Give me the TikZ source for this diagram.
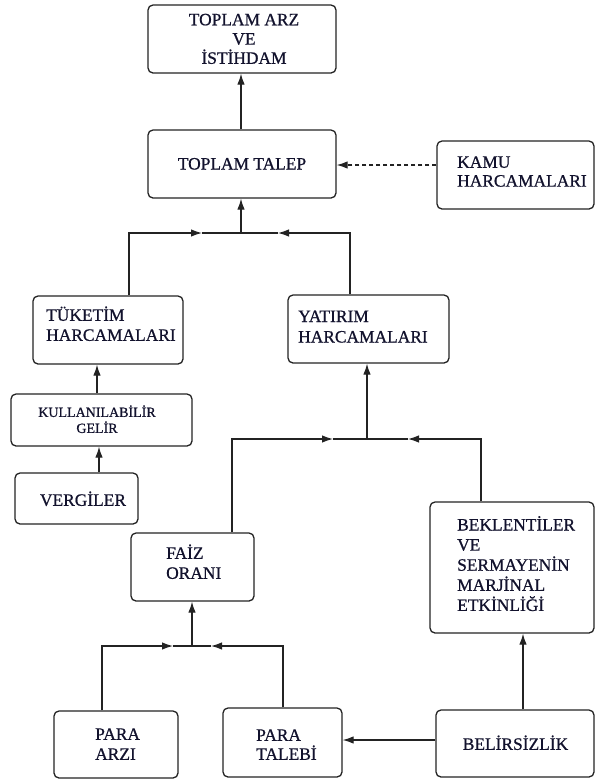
\documentclass[tikz,border=0pt]{standalone}
\usepackage{fontspec}
\setmainfont{Liberation Serif}[BoldFont=Liberation Serif,BoldFeatures={FakeBold=0.8}]
\usetikzlibrary{arrows.meta}
\definecolor{txtc}{RGB}{18,18,45}
\definecolor{linec}{RGB}{35,35,35}
\begin{document}
\begin{tikzpicture}[x=1pt,y=-1pt,
  box/.style={draw=linec,line width=1.3pt,rounded corners=5pt,inner sep=0pt},
  lbl/.style={inner sep=0pt,text=txtc,font=\fontsize{17.4}{20}\selectfont\bfseries},
  lbls/.style={inner sep=0pt,text=txtc,font=\fontsize{14}{16}\selectfont\bfseries},
  conn/.style={draw=linec,line width=1.2pt},
  arr/.style={conn,-{Latex[length=11pt,width=7.5pt]}},
  dasharr/.style={arr,dash pattern=on 4pt off 3pt}]
\useasboundingbox (0,0) rectangle (595,780);
% boxes
\node[box,minimum width=188pt,minimum height=68pt] (arz) at (242,39) {};
\node[box,minimum width=188pt,minimum height=68pt] (talep) at (242,164) {};
\node[box,minimum width=157pt,minimum height=68pt] (kamu) at (515.5,175) {};
\node[box,minimum width=150pt,minimum height=68pt] (tuk) at (108,330) {};
\node[box,minimum width=161pt,minimum height=68pt] (yat) at (368.5,329) {};
\node[box,minimum width=181pt,minimum height=52pt] (kul) at (101.5,420) {};
\node[box,minimum width=123pt,minimum height=51pt] (ver) at (76.5,498.5) {};
\node[box,minimum width=123pt,minimum height=68pt] (faiz) at (192.5,567) {};
\node[box,minimum width=164pt,minimum height=131pt] (bek) at (512,567.5) {};
\node[box,minimum width=124pt,minimum height=67pt] (parz) at (116,744.5) {};
\node[box,minimum width=119pt,minimum height=69pt] (ptal) at (282.5,742.5) {};
\node[box,minimum width=158pt,minimum height=67pt] (bel) at (515,743.5) {};
% texts
\node[lbl,anchor=base] (arzA) at (244,25.3) {TOPLAM ARZ};
\node[lbl,anchor=base] (arzB) at (244,44.6) {VE};
\node[lbl,anchor=base] (arzC) at (244,63.8) {İSTİHDAM};
\node[lbl,anchor=base] (talA) at (242,169.5) {TOPLAM TALEP};
\node[lbl,anchor=base west] (kamA) at (457,167.8) {KAMU};
\node[lbl,anchor=base west] (kamB) at (457,186.6) {HARCAMALARI};
\node[lbl,anchor=base west] (tukA) at (46,320.8) {TÜKETİM};
\node[lbl,anchor=base west] (tukB) at (46,340.8) {HARCAMALARI};
\node[lbl,anchor=base west] (yatA) at (298,322) {YATIRIM};
\node[lbl,anchor=base west] (yatB) at (298,342.5) {HARCAMALARI};
\node[lbls,anchor=base] (kulA) at (97,416.9) {KULLANILABİLİR};
\node[lbls,anchor=base] (kulB) at (97,432.9) {GELİR};
\node[lbl,anchor=base] (verA) at (83,505.8) {VERGİLER};
\node[lbl,anchor=base west] (faiA) at (166,558.8) {FAİZ};
\node[lbl,anchor=base west] (faiB) at (166,578.8) {ORANI};
\node[lbl,anchor=base west] (bekA) at (457,530.5) {BEKLENTİLER};
\node[lbl,anchor=base west] (bekB) at (457,550.6) {VE};
\node[lbl,anchor=base west] (bekC) at (457,570.7) {SERMAYENİN};
\node[lbl,anchor=base west] (bekD) at (457,590.8) {MARJİNAL};
\node[lbl,anchor=base west] (bekE) at (457,610.9) {ETKİNLİĞİ};
\node[lbl,anchor=base west] (parA) at (95,739.8) {PARA};
\node[lbl,anchor=base west] (parB) at (95,759.8) {ARZI};
\node[lbl,anchor=base west] (ptaA) at (256,740.8) {PARA};
\node[lbl,anchor=base west] (ptaB) at (256,759.8) {TALEBİ};
\node[lbl,anchor=base] (belA) at (515.5,749.8) {BELİRSİZLİK};
% junction coordinates
\coordinate (j1) at (241,233);
\coordinate (j1L) at (129,233);
\coordinate (a1L) at (202,233);
\coordinate (j1R) at (350,233);
\coordinate (a1R) at (278,233);
\coordinate (j2) at (367,439);
\coordinate (j2L) at (232,439);
\coordinate (a2L) at (333,439);
\coordinate (j2R) at (481,439);
\coordinate (a2R) at (408,439);
\coordinate (j3) at (192,646);
\coordinate (j3L) at (102,646);
\coordinate (a3L) at (173,646);
\coordinate (j3R) at (283,646);
\coordinate (a3R) at (211,646);
\coordinate (xT) at (241,0);
\coordinate (xK) at (97,0);
\coordinate (xV) at (99,0);
\coordinate (xB) at (523,0);
\coordinate (yK) at (0,165);
\coordinate (yB) at (0,740);
% connectors
\draw[arr] (talep.north -| xT) -- (arz.south -| xT);
\draw[dasharr] (kamu.west |- yK) -- (talep.east |- yK);
\draw[arr] (tuk.north -| j1L) -- (j1L) -- (a1L);
\draw[conn] (a1L) -- (j1);
\draw[arr] (yat.north -| j1R) -- (j1R) -- (a1R);
\draw[conn] (a1R) -- (j1);
\draw[arr] (j1) -- (talep.south -| j1);
\draw[arr] (kul.north -| xK) -- (tuk.south -| xK);
\draw[arr] (ver.north -| xV) -- (kul.south -| xV);
\draw[arr] (faiz.north -| j2L) -- (j2L) -- (a2L);
\draw[conn] (a2L) -- (j2);
\draw[arr] (bek.north -| j2R) -- (j2R) -- (a2R);
\draw[conn] (a2R) -- (j2);
\draw[arr] (j2) -- (yat.south -| j2);
\draw[arr] (parz.north -| j3L) -- (j3L) -- (a3L);
\draw[conn] (a3L) -- (j3);
\draw[arr] (ptal.north -| j3R) -- (j3R) -- (a3R);
\draw[conn] (a3R) -- (j3);
\draw[arr] (j3) -- (faiz.south -| j3);
\draw[arr] (bel.west |- yB) -- (ptal.east |- yB);
\draw[arr] (bel.north -| xB) -- (bek.south -| xB);
\end{tikzpicture}
\end{document}
